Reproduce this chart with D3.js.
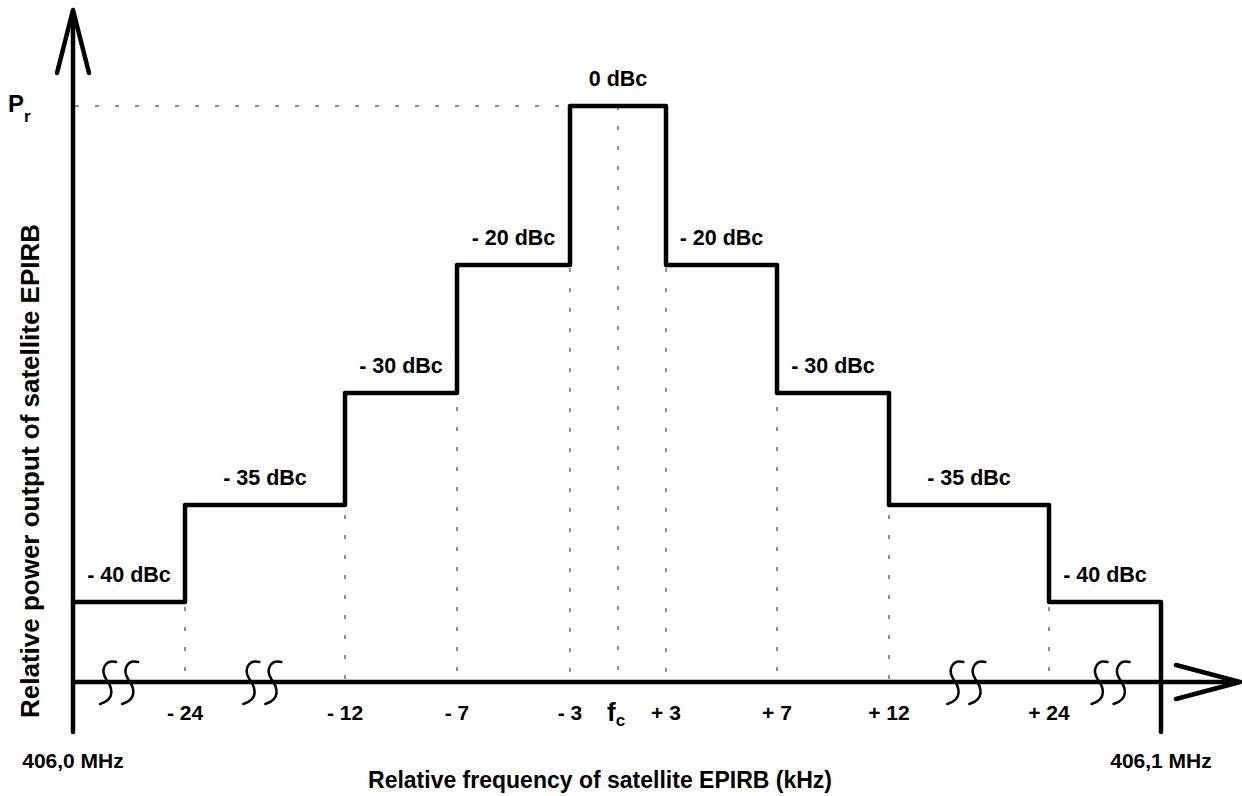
<!DOCTYPE html>
<html>
<head>
<meta charset="utf-8">
<script src="https://cdn.jsdelivr.net/npm/d3@7"></script>
<style>
  html, body { margin: 0; padding: 0; background: #fff; }
  svg { display: block; }
  text { font-family: "Liberation Sans", Arial, sans-serif; font-weight: bold; fill: #000; }
</style>
</head>
<body>
<svg id="chart" width="1242" height="796"></svg>
<script>
// ---- data ----
// Frequency boundaries of the mask segments (kHz relative to fc); outer ends = band edges
const edges = [-50, -24, -12, -7, -3, 3, 7, 12, 24, 50];
// Level of each segment (dBc)
const levels = [-40, -35, -30, -20, 0, -20, -30, -35, -40];
const levelLabels = ["- 40 dBc", "- 35 dBc", "- 30 dBc", "- 20 dBc", "0 dBc",
                     "- 20 dBc", "- 30 dBc", "- 35 dBc", "- 40 dBc"];
// Tick positions on the frequency axis (kHz)
const tickValues = [-24, -12, -7, -3, 0, 3, 7, 12, 24];
const tickLabels = ["- 24", "- 12", "- 7", "- 3", "fc", "+ 3", "+ 7", "+ 12", "+ 24"];
// Axis-break symbols (kHz)
const breakCenters = [-39.3, -18.2, 17.8, 38.3];
// Band edges
const bandLabels = ["406,0 MHz", "406,1 MHz"];
const axisLevel = -50; // baseline of the level axis (dBc)

// ---- scales (axis is not to scale: piecewise) ----
const xDomain = [-50, -24, -12, -7, -3, 0, 3, 7, 12, 24, 50];
const xRange  = [73, 185, 345, 457, 570, 618, 666, 777, 889, 1049, 1161];
const x = d3.scaleLinear().domain(xDomain).range(xRange);
const yDomain = [-50, -40, -35, -30, -20, 0];
const yRange  = [682, 602, 505, 393, 265, 106];
const y = d3.scaleLinear().domain(yDomain).range(yRange);

const svg = d3.select("#chart");

// ---- dotted guide lines ----
const dotted = svg.append("g")
  .attr("stroke", "#222").attr("stroke-width", 1).attr("stroke-dasharray", "4,16");
const innerEdges = edges.slice(1, -1);
innerEdges.forEach((e, i) => {
  const top = Math.min(y(levels[i]), y(levels[i + 1]));
  dotted.append("line")
    .attr("x1", x(e)).attr("x2", x(e))
    .attr("y1", top + 2).attr("y2", y(axisLevel));
});
dotted.append("line")
  .attr("x1", x(0)).attr("x2", x(0))
  .attr("y1", y(0)).attr("y2", y(axisLevel));
dotted.append("line")
  .attr("x1", x(-50)).attr("x2", x(-3))
  .attr("y1", y(0)).attr("y2", y(0))
  .attr("stroke-dashoffset", -2);

// ---- axes ----
const axisG = svg.append("g").attr("stroke", "#000").attr("fill", "none")
  .attr("stroke-width", 4.5).attr("stroke-linecap", "round").attr("stroke-linejoin", "round");
const yAxisTop = 10, axisBottom = 732, xAxisEnd = 1240;
axisG.append("line").attr("x1", x(-50)).attr("x2", x(-50)).attr("y1", axisBottom).attr("y2", yAxisTop + 2);
axisG.append("path").attr("d", d3.line()([[x(-50) - 16, yAxisTop + 63], [x(-50), yAxisTop], [x(-50) + 16, yAxisTop + 63]]));
axisG.append("line").attr("x1", x(-50)).attr("x2", xAxisEnd - 2).attr("y1", y(axisLevel)).attr("y2", y(axisLevel))
  .attr("stroke-linecap", "butt");
axisG.append("path").attr("d", d3.line()([[xAxisEnd - 64, y(axisLevel) - 17], [xAxisEnd, y(axisLevel)], [xAxisEnd - 64, y(axisLevel) + 17]]));

// ---- mask step line ----
const pts = [];
levels.forEach((lv, i) => {
  pts.push([x(edges[i]), y(lv)]);
  pts.push([x(edges[i + 1]), y(lv)]);
});
pts.push([x(edges[edges.length - 1]), axisBottom]);
axisG.append("path").attr("d", d3.line()(pts));

// ---- axis break symbols ----
const brk = svg.append("g").attr("stroke", "#000").attr("fill", "none")
  .attr("stroke-width", 2.5).attr("stroke-linecap", "round");
breakCenters.forEach(c => {
  [-11, 11].forEach(off => {
    const cx = x(c) + off, cy = y(axisLevel);
    const p = d3.path();
    p.moveTo(cx + 8, cy - 20);
    p.bezierCurveTo(cx - 3, cy - 23, cx - 8, cy - 12, cx - 2, cy - 3);
    p.bezierCurveTo(cx + 4, cy + 5, cx + 8, cy + 17, cx - 8, cy + 22);
    brk.append("path").attr("d", p.toString());
  });
});

// ---- level labels ----
svg.append("g").selectAll("text").data(levels).join("text")
  .attr("x", (d, i) => (x(edges[i]) + x(edges[i + 1])) / 2)
  .attr("y", d => y(d) - 20)
  .attr("text-anchor", "middle")
  .attr("font-size", 21.5)
  .text((d, i) => levelLabels[i]);

// ---- tick labels ----
const tg = svg.append("g");
tickValues.forEach((v, i) => {
  if (tickLabels[i] === "fc") {
    const t = tg.append("text").attr("x", x(v) - 11).attr("y", 721).attr("font-size", 26);
    t.append("tspan").text("f");
    t.append("tspan").attr("dy", 5).attr("font-size", 17).text("c");
  } else {
    tg.append("text").attr("x", x(v)).attr("y", 720)
      .attr("text-anchor", "middle").attr("font-size", 21).text(tickLabels[i]);
  }
});

// ---- Pr label ----
const pr = svg.append("text").attr("x", 8).attr("y", 112).attr("font-size", 24);
pr.append("tspan").text("P");
pr.append("tspan").attr("dy", 10).attr("font-size", 17).text("r");

// ---- band edge labels ----
svg.append("text").attr("x", x(-50)).attr("y", 768).attr("text-anchor", "middle")
  .attr("font-size", 21).text(bandLabels[0]);
svg.append("text").attr("x", x(50)).attr("y", 768).attr("text-anchor", "middle")
  .attr("font-size", 21).text(bandLabels[1]);

// ---- axis titles ----
svg.append("text").attr("x", 600).attr("y", 788).attr("text-anchor", "middle")
  .attr("font-size", 23).text("Relative frequency of satellite EPIRB (kHz)");
svg.append("text").attr("transform", "translate(39,471) rotate(-90)")
  .attr("text-anchor", "middle").attr("font-size", 26)
  .text("Relative power output of satellite EPIRB");
</script>
</body>
</html>
